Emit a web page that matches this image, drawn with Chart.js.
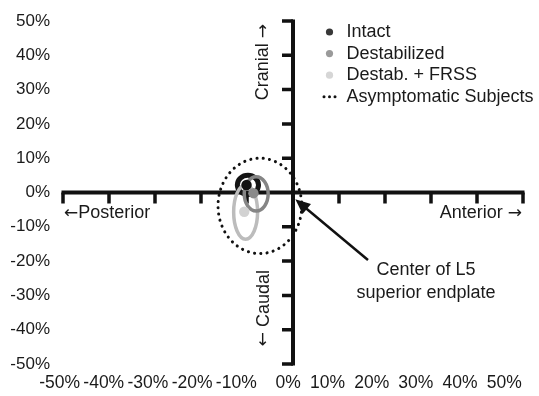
<!DOCTYPE html>
<html>
<head>
<meta charset="utf-8">
<script src="https://cdn.jsdelivr.net/npm/chart.js@4/dist/chart.umd.min.js"></script>
<style>
  html, body { margin: 0; padding: 0; background: #fff; }
  #wrap { width: 539px; height: 396px; }
</style>
</head>
<body>
<div id="wrap"><canvas id="motion-graph"></canvas></div>
<script>
// mean position of each condition (% of endplate depth)
const seriesNames = ['Intact', 'Destabilized', 'Destab. + FRSS'];
const meanX = [-10.1, -8.6, -10.6];
const meanY = [2.2, -0.2, -5.6];

// spread around each condition, drawn as an ellipse
const spreadX = [-9.8, -8.0, -10.3];
const spreadY = [2.2, -0.4, -5.7];
const spreadRx = [2.3, 2.6, 2.6];
const spreadRy = [2.8, 5.0, 7.9];

// asymptomatic subjects range (dotted ellipse)
const asymLabel = 'Asymptomatic Subjects';
const asymX = [-7.2];
const asymY = [-3.9];
const asymRx = [9.1];
const asymRy = [13.9];

const tickValues = [-50, -40, -30, -20, -10, 0, 10, 20, 30, 40, 50];

// styles
const dotColors = ['#111111', '#8a8a8a', '#d2d2d2'];
const legendColors = ['#383838', '#9a9a9a', '#d6d6d6'];
const ringColors = ['#141414', '#858585', '#bcbcbc'];
const ringWidths = [5, 3.5, 3.5];
const FAMILY = '"Liberation Sans", Arial, sans-serif';
const TEXT_FONT = '18px ' + FAMILY;
const ARROW_FONT = '17px "DejaVu Sans", sans-serif';
const INK = '#1a1a1a';

// draws text made of pieces in different fonts (arrows come from DejaVu)
function drawPieces(ctx, pieces, x, y, align) {
  let total = 0;
  pieces.forEach(p => { ctx.font = p[1]; total += ctx.measureText(p[0]).width; });
  let cur = align === 'left' ? x : align === 'right' ? x - total : x - total / 2;
  ctx.textAlign = 'left';
  pieces.forEach(p => {
    ctx.font = p[1];
    ctx.fillText(p[0], cur, y);
    cur += ctx.measureText(p[0]).width;
  });
}

const axesAndNotes = {
  id: 'axesAndNotes',
  beforeDatasetsDraw(chart) {
    const ctx = chart.ctx;
    const x = chart.scales.x;
    const y = chart.scales.y;
    const px = v => x.getPixelForValue(v);
    const py = v => y.getPixelForValue(v);
    ctx.save();

    // center axes with tick marks
    ctx.strokeStyle = '#111';
    ctx.lineCap = 'butt';
    ctx.lineWidth = 4;
    ctx.beginPath();
    ctx.moveTo(px(-50) - 1.5, py(0));
    ctx.lineTo(px(50) + 1.5, py(0));
    ctx.moveTo(px(0), py(50) - 1.5);
    ctx.lineTo(px(0), py(-50) + 1.5);
    ctx.stroke();
    ctx.lineWidth = 3.5;
    ctx.beginPath();
    tickValues.forEach(v => {
      if (v === 0) return;
      ctx.moveTo(px(v), py(0));
      ctx.lineTo(px(v), py(0) + 11);
      ctx.moveTo(px(0), py(v));
      ctx.lineTo(px(0) - 11, py(v));
    });
    ctx.stroke();

    // condition ellipses
    [0, 2, 1].forEach(i => {
      const cx = px(spreadX[i]), cy = py(spreadY[i]);
      ctx.beginPath();
      ctx.ellipse(cx, cy, Math.abs(px(spreadX[i] + spreadRx[i]) - cx),
        Math.abs(py(spreadY[i] + spreadRy[i]) - cy), 0, 0, Math.PI * 2);
      ctx.strokeStyle = ringColors[i];
      ctx.lineWidth = ringWidths[i];
      ctx.stroke();
    });

    // asymptomatic range, dotted
    const ax = px(asymX[0]), ay = py(asymY[0]);
    ctx.beginPath();
    ctx.ellipse(ax, ay, Math.abs(px(asymX[0] + asymRx[0]) - ax),
      Math.abs(py(asymY[0] + asymRy[0]) - ay), 0, 0, Math.PI * 2);
    ctx.setLineDash([0.1, 6.2]);
    ctx.lineCap = 'round';
    ctx.lineWidth = 3;
    ctx.strokeStyle = '#111';
    ctx.stroke();
    ctx.setLineDash([]);
    ctx.restore();
  },
  afterDatasetsDraw(chart) {
    const ctx = chart.ctx;
    const x = chart.scales.x;
    const y = chart.scales.y;
    const px = v => x.getPixelForValue(v);
    const py = v => y.getPixelForValue(v);
    ctx.save();
    ctx.fillStyle = INK;
    ctx.textBaseline = 'middle';

    // direction labels
    drawPieces(ctx, [['\u2190', ARROW_FONT], ['Posterior', TEXT_FONT]], px(-49.8), py(-6.0), 'left');
    drawPieces(ctx, [['Anterior ', TEXT_FONT], ['\u2192', ARROW_FONT]], px(49.8), py(-6.0), 'right');
    ctx.save();
    ctx.translate(px(-6.5), py(38.0));
    ctx.rotate(-Math.PI / 2);
    drawPieces(ctx, [['Cranial ', TEXT_FONT], ['\u2192', ARROW_FONT]], 0, 0, 'center');
    ctx.restore();
    ctx.save();
    ctx.translate(px(-6.3), py(-33.7));
    ctx.rotate(-Math.PI / 2);
    drawPieces(ctx, [['\u2190', ARROW_FONT], [' Caudal', TEXT_FONT]], 0, 0, 'center');
    ctx.restore();

    // callout
    ctx.font = TEXT_FONT;
    ctx.textAlign = 'center';
    ctx.fillText('Center of L5', px(28.9), py(-22.6));
    ctx.fillText('superior endplate', px(28.9), py(-29.4));
    const x0 = px(16.3), y0 = py(-19.7), x1 = px(0.5), y1 = py(-2.0);
    const ang = Math.atan2(y1 - y0, x1 - x0);
    ctx.strokeStyle = '#111';
    ctx.lineWidth = 2.5;
    ctx.beginPath();
    ctx.moveTo(x0, y0);
    ctx.lineTo(x1 - 10 * Math.cos(ang), y1 - 10 * Math.sin(ang));
    ctx.stroke();
    ctx.fillStyle = '#111';
    ctx.beginPath();
    ctx.moveTo(x1, y1);
    ctx.lineTo(x1 - 15 * Math.cos(ang) + 6.5 * Math.sin(ang), y1 - 15 * Math.sin(ang) - 6.5 * Math.cos(ang));
    ctx.lineTo(x1 - 15 * Math.cos(ang) - 6.5 * Math.sin(ang), y1 - 15 * Math.sin(ang) + 6.5 * Math.cos(ang));
    ctx.closePath();
    ctx.fill();

    // legend
    const lx = 329.5, ly = 32, step = 21.6;
    ctx.textAlign = 'left';
    seriesNames.forEach((name, i) => {
      ctx.fillStyle = legendColors[i];
      ctx.beginPath();
      ctx.arc(lx, ly + i * step, 3.6, 0, Math.PI * 2);
      ctx.fill();
      ctx.fillStyle = INK;
      ctx.fillText(name, lx + 17, ly + i * step);
    });
    ctx.fillStyle = '#111';
    [-5.5, 0, 5.5].forEach(d => {
      ctx.beginPath();
      ctx.arc(lx + d, ly + 3 * step, 1.5, 0, Math.PI * 2);
      ctx.fill();
    });
    ctx.fillStyle = INK;
    ctx.fillText(asymLabel, lx + 17, ly + 3 * step);
    ctx.restore();
  }
};

new Chart(document.getElementById('motion-graph'), {
  type: 'scatter',
  data: {
    datasets: seriesNames.map((name, i) => ({
      label: name,
      data: [{ x: meanX[i], y: meanY[i] }],
      backgroundColor: dotColors[i],
      borderColor: dotColors[i],
      borderWidth: 0,
      pointRadius: 5.2,
      pointHoverRadius: 5.2
    }))
  },
  options: {
    responsive: true,
    maintainAspectRatio: false,
    animation: false,
    layout: { padding: { top: 21, right: 16, left: 0, bottom: 0 } },
    plugins: {
      legend: { display: false },
      tooltip: { enabled: false }
    },
    scales: {
      x: { type: 'linear', min: -50, max: 50, display: false },
      // tick labels are right-aligned on a slightly tighter spacing than the marks
      xl: {
        type: 'linear',
        axis: 'x',
        position: 'bottom',
        min: -53.85,
        max: 50.29,
        grid: { display: false, drawTicks: false },
        border: { display: false },
        ticks: {
          autoSkip: false,
          maxRotation: 0,
          align: 'end',
          padding: 9,
          color: INK,
          font: { family: FAMILY, size: 17.5 },
          callback: v => v + '%'
        },
        afterBuildTicks: s => { s.ticks = tickValues.map(v => ({ value: v })); },
        afterFit: s => { s.height = 32; s.paddingLeft = 0; s.paddingRight = 0; }
      },
      y: {
        type: 'linear',
        min: -50,
        max: 50,
        position: 'left',
        grid: { display: false, drawTicks: false },
        border: { display: false },
        ticks: {
          stepSize: 10,
          padding: 13,
          color: INK,
          font: { family: FAMILY, size: 17 },
          callback: v => v + '%'
        },
        afterFit: s => { s.width = 63; s.paddingTop = 0; s.paddingBottom = 0; }
      }
    }
  },
  plugins: [axesAndNotes]
});
</script>
</body>
</html>
